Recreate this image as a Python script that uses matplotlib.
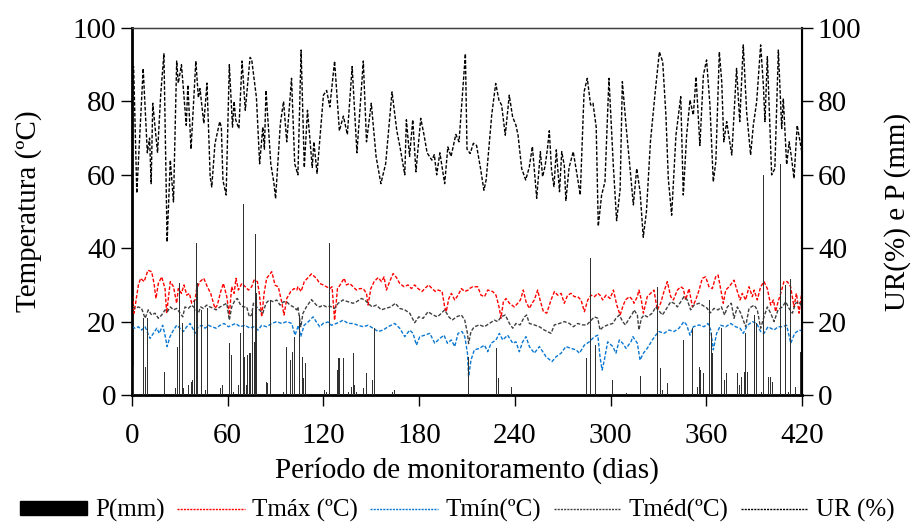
import numpy as np
import matplotlib.pyplot as plt
from matplotlib.patches import Patch
from matplotlib.lines import Line2D

plt.rcParams['font.family'] = ['Liberation Serif', 'DejaVu Serif']

# umidade relativa (%)
ur_dia = [0, 1, 3, 7, 9.6, 11, 12, 13, 16, 18, 20, 22, 24, 26, 28, 29, 31, 34, 35, 37, 40, 41.6, 42.6, 45, 47,
          49, 50, 52, 55, 56, 57, 59, 61, 63, 64, 65, 67, 69, 71, 74, 75, 78, 80, 82, 83, 84, 87, 89, 90, 93,
          95, 97, 100, 102, 104, 106, 108, 110, 113, 114, 116, 120, 122, 124, 127, 130, 132.5, 135, 138, 141,
          145, 147, 150, 153, 156, 159, 163, 166, 168, 171, 172, 174, 176, 178, 181, 183, 185, 188, 189.5, 191,
          193, 196, 198, 200, 203, 205, 209, 210, 212, 214, 216, 218.5, 220.6, 222, 225.5, 228, 230, 231.7,
          234, 236.5, 238.6, 240.7, 242, 244.3, 246.8, 249, 251, 253.7, 256, 257.4, 259, 260.4, 261.6, 263,
          264.5, 266, 268, 269.4, 271, 272, 274, 276.6, 278.7, 281, 283.4, 285.4, 287.5, 289, 291, 292.3,
          294.4, 296.5, 299, 301.7, 303.8, 306, 307.4, 310, 312, 314.3, 316.4, 318.5, 320.5, 322.5, 325, 328,
          330.6, 332.7, 334.7, 336.2, 338.3, 341, 344, 345.6, 347.7, 349.8, 351.9, 353.6, 356, 358.2, 360.2,
          362.3, 364.4, 366, 368.2, 369.7, 371, 372.8, 376, 379, 381, 383.2, 385.3, 387.8, 389.5, 391.6,
          394.1, 395.8, 396.8, 398.3, 401, 403, 405.2, 407.3, 408.3, 410.4, 412, 413.5, 415, 417, 419.2, 420]
ur_val = [89, 89.5, 55, 89, 66, 70, 57.6, 79.5, 66, 82, 93, 41.7, 64, 52.6, 91, 85, 90, 73.5, 84.5, 67, 91, 81,
          83.5, 74, 85, 59.5, 56.7, 68.5, 74.5, 73, 58.5, 54.5, 90, 73, 80, 75, 72.6, 91, 77.6, 92, 91.5, 81,
          63, 73, 67, 83, 63, 57.6, 53.5, 74, 80, 69, 86.3, 63, 60, 94, 62, 77.6, 62, 69, 60.4, 81.7, 83, 78.5,
          91, 72, 76, 71, 89.5, 66, 91, 69, 79.5, 65, 57.6, 63, 82.6, 72, 67.6, 60, 75, 65, 75, 60.8, 75.4, 71,
          66, 64, 65.5, 60, 66, 57.6, 67.6, 65, 71, 69, 93, 67, 65.8, 68.6, 68, 61.7, 55.8, 58.6, 76.3, 84.9,
          80.4, 79, 70.8, 81.7, 75.8, 73.5, 70.8, 61.7, 58.6, 62, 67.7, 53.6, 66.3, 59.5, 62.5, 67, 72, 61.3,
          56.8, 66.8, 55.4, 66.3, 62.5, 53, 62, 66.3, 60.8, 54.5, 82.6, 86.3, 79, 79.5, 73, 46, 54.5, 58.1,
          86.3, 62.8, 47.5, 56, 85.4, 72, 62.8, 51.8, 61.7, 55.4, 43, 50, 69, 82.6, 93.5, 90.8, 76.3, 59, 49,
          70.8, 81.3, 54.5, 70.8, 80.4, 76.3, 86.7, 68, 87.2, 91.3, 79, 58.1, 63.6, 93.5, 85.4, 69, 74.5, 65.4,
          89, 74.5, 95.4, 77.2, 65.4, 73.5, 79.9, 95.4, 84.5, 74.5, 92.2, 60, 61.7, 94, 72.6, 80.8, 62.8, 69,
          64.5, 59, 73.5, 68, 66]

# temperatura maxima
tmax_dia = [0, 1.3, 4, 5.4, 7.6, 10, 12.3, 13.8, 15, 16.5, 18.6, 20.7, 21.7, 24, 26, 28, 29, 31, 32.6, 34.3, 36,
            37.4, 39.5, 40.5, 42.6, 45, 47.2, 49.3, 52, 53.5, 55.6, 57.3, 59.4, 61, 62.5, 64, 65.2, 66.7, 68.8,
            71, 73, 75, 76.5, 78.6, 79.8, 81.3, 82.8, 84.4, 87.6, 89.7, 91.7, 93.8, 95.3, 97, 99.5, 101.6, 103.3,
            104, 106, 108, 112.5, 115.6, 117.7, 119.8, 121.9, 124, 125.4, 127, 128.8, 130.3, 133, 134.4, 136.5,
            138.6, 140.7, 142.8, 144.9, 147, 148, 149.7, 151.8, 154.3, 156.4, 158, 159.5, 161.6, 163.7, 165.8,
            167.8, 170.6, 173, 175.2, 177.2, 179.3, 181.8, 183.5, 186, 188.1, 190.2, 191.9, 194.4, 196, 197,
            198.6, 200.2, 202.3, 204.4, 206.5, 208.6, 210.7, 211.5, 213.6, 216.7, 218.8, 221, 223, 226.1, 228.2,
            230.3, 231.3, 232.8, 234.5, 236.6, 239.7, 241.8, 243.5, 245.3, 247, 249.1, 250.8, 252.2, 254.3,
            255.8, 257.9, 260, 262.7, 264.8, 266.9, 269, 271, 273.1, 275.2, 277.3, 279.4, 281.5, 283.6, 285.7,
            287.8, 289.9, 292, 293.4, 295.1, 297.2, 299.7, 301.8, 303.9, 306, 307.6, 309.3, 311.8, 313.9, 314.7,
            316.8, 317.8, 319.3, 320.6, 323, 325.1, 327.2, 329.3, 331.4, 333.5, 335.6, 337.7, 339.4, 341.9, 344,
            345.6, 347.1, 349.2, 351.3, 353.4, 355.5, 357.5, 359.6, 361.7, 363.8, 365.9, 367.4, 369, 370.7,
            372.2, 374.3, 377.4, 379.5, 381.2, 382.6, 384.7, 386.8, 388.9, 390, 392, 394.1, 396.2, 398.3, 400.4,
            402.1, 403.5, 405, 406.7, 408.7, 410.8, 412.9, 415, 416.5, 418.2, 420]
tmax_val = [28.6, 22.3, 30, 31.8, 30.9, 34, 33.6, 30.4, 26.3, 30.4, 32.2, 29, 22.3, 30.9, 29.5, 25, 29, 27.7, 30,
            27.2, 27.7, 25, 25.9, 29, 30.9, 31.8, 29.5, 27.7, 23.6, 24.5, 28.2, 30.4, 26.8, 21.8, 29.5, 27.7,
            31.8, 28.6, 30.4, 29.5, 28.6, 29.5, 31.3, 30.9, 27.7, 21.3, 27.7, 31.8, 33.6, 29.9, 29.5, 25.4, 21.8,
            26.3, 28.2, 29, 28.6, 29.5, 28.2, 30.9, 33, 31.8, 30.4, 30, 29.5, 29, 29.5, 20.4, 29, 29.9, 31.8, 30,
            30.4, 29.5, 28.6, 29, 29, 27.7, 24.5, 29, 30.9, 32, 30.9, 32.2, 28.6, 31, 33.1, 32, 30.4, 29.5, 30,
            29, 30, 29, 28.2, 29, 30, 29, 28.2, 28.6, 28.2, 24, 22.7, 26.3, 27.7, 25.9, 27.2, 29, 28.2, 28.6, 29,
            29.5, 29.5, 27.2, 26.8, 28.6, 28.2, 27.2, 23.6, 20.9, 25.4, 26.3, 25, 24, 25, 25.9, 28.6, 25.4, 23.6,
            25, 25.9, 28.6, 25.9, 22.7, 22.3, 25.9, 28.2, 27.2, 27.7, 25, 27.2, 27.7, 26.8, 26.8, 25.9, 22.7,
            25.9, 27.2, 26.8, 27.7, 27.2, 25.9, 27.2, 26.3, 28.6, 24.5, 21.8, 24, 25.9, 26.8, 25.9, 25, 26.8,
            28.6, 25.9, 22.3, 26.8, 27.7, 28.6, 23.2, 25, 28.2, 30.9, 26.8, 25.9, 28.6, 29.5, 29, 25.9, 29, 24,
            25.9, 28.6, 31.8, 32.2, 29.5, 29, 32.2, 32.7, 29, 25, 28.6, 29.5, 31.3, 28.2, 25.9, 27.7, 25.9, 29.5,
            26.8, 28.6, 25.9, 29.5, 30.9, 29, 24.5, 25.9, 22.7, 25.4, 27.7, 30.9, 30.9, 29.5, 24, 27.7, 22.3,
            28.6]

# temperatura media
tmed_dia = [0, 1.9, 4, 6, 8.2, 10.2, 12.3, 14.4, 16.5, 18.6, 20.7, 22.2, 24, 26, 28, 30.1, 31.8, 33.2, 35.3, 37.4,
            39.5, 41.6, 43, 44.7, 46.8, 48.9, 51, 52.7, 55.2, 57.3, 59.4, 61, 62.5, 64.6, 66, 68.1, 69.8, 71.9,
            73.6, 75, 76.1, 78.2, 79.8, 82, 84, 86, 88.6, 90.7, 92.8, 95, 97, 99, 101.2, 103.2, 104, 105.8,
            107.2, 109.3, 112.5, 115.6, 117.7, 119.8, 121.9, 124, 127, 129.2, 132.3, 135.5, 138.6, 140.7, 143.8,
            145.9, 148, 150.5, 153.2, 156.3, 158.9, 162.2, 165.1, 167.8, 171, 174.1, 177.2, 179.8, 182.5, 185.6,
            188.7, 191.5, 194, 196, 198.6, 200.7, 203.4, 206.5, 208.6, 210.3, 211, 212.5, 214.6, 217.8, 220.9,
            224, 227.2, 229.3, 231.3, 234, 236.6, 238.7, 240.7, 243.3, 246, 247.4, 249.1, 252.2, 255.4, 258.5,
            262.7, 264.8, 268, 271, 274.2, 276.7, 279.4, 282.5, 285.1, 287.1, 289.9, 292, 293.4, 295.5, 298.2,
            301.4, 303.4, 305.5, 307.6, 309.3, 311.8, 313.9, 314.7, 316.8, 317.8, 319.3, 321, 323, 326.2, 328.3,
            329.8, 332.5, 334.6, 337.7, 339.8, 341.9, 344, 346, 348.1, 350.2, 352.3, 355.5, 357.5, 360.7, 362.3,
            364.9, 367.4, 369.5, 371.5, 373.2, 375.7, 377.4, 379.5, 381.6, 384.7, 386.8, 390, 392, 394.1, 396.2,
            398.3, 400.4, 402.5, 405, 407.7, 409.8, 411.9, 414, 416, 418.2, 420]
tmed_val = [24, 23.6, 24, 23.6, 20.9, 23.2, 21.8, 22.3, 20.9, 21.8, 23.2, 22.7, 24, 23.2, 23.6, 22.3, 21.3, 24,
            23.6, 24.5, 23.6, 22.3, 24, 23.6, 24.5, 24, 23.6, 23.2, 24, 24.5, 25, 20.4, 24, 25.9, 26.3, 24.5, 24,
            24, 21.3, 21.8, 25, 24, 23.2, 22.3, 25, 25.9, 25.4, 25.9, 24.5, 25.4, 25.4, 24.5, 24, 23.2, 24, 18.6,
            22.3, 24, 26, 24.5, 24, 24.5, 24, 24.2, 23.6, 25, 25.9, 25.4, 25, 25.4, 26.3, 25.9, 25, 24, 24.5,
            23.2, 23.6, 24, 25, 23.6, 23.2, 22.3, 19.7, 21.3, 20.9, 22.7, 21.8, 21.3, 22.3, 23.2, 21.3, 20.4,
            21.3, 21.8, 20.4, 16.8, 14, 17.3, 18.6, 19.1, 18.6, 19.5, 20.4, 20, 21.3, 21.8, 19.5, 18.2, 19.5,
            19.1, 21.3, 21.8, 19.5, 19.1, 18.6, 17.7, 16.8, 19.1, 19.5, 20, 19.5, 18.6, 19.5, 19.1, 19.1, 20,
            21.3, 20.9, 17.7, 18.6, 19.1, 19.5, 20.9, 21.8, 20, 19.1, 20.9, 22.3, 23.2, 21.8, 17.7, 20.9, 21.8,
            21.3, 22.3, 24, 23.2, 21.8, 23.2, 25.4, 25, 24, 25.4, 26.8, 25.9, 23.2, 24.5, 25, 24.5, 23.6, 22.3,
            23.6, 23.2, 24, 21.8, 24, 25, 20.9, 24, 22.3, 18.6, 23.6, 24.5, 23.2, 18.2, 21.3, 24, 22.3, 20,
            23.2, 24, 25.4, 23.6, 22.3, 25, 25.4, 24]

# temperatura minima
tmin_dia = [0, 1.9, 4, 6, 8.2, 11.3, 13.4, 15.5, 17.1, 19.2, 20.7, 22, 23.8, 26, 28, 30.1, 32.2, 34.3, 36.4, 38,
            39.5, 41.6, 43.7, 45.8, 47.9, 50, 52.7, 55.2, 57.7, 60.4, 62.5, 65, 67.7, 70.8, 74, 76.1, 79, 81.3,
            84.4, 87.6, 90.7, 93.8, 97, 100.1, 102.2, 104.3, 105.8, 107.9, 110.4, 113.5, 115.6, 117.7, 119.8,
            122.9, 125, 128.1, 130.2, 132.3, 135.5, 138.6, 141.7, 144.9, 148, 151.1, 154.3, 157.4, 160.5, 164.7,
            167.8, 171, 174.1, 176.2, 178.3, 180.4, 183.5, 186.7, 189.8, 192.9, 195.6, 197.7, 200.2, 202.3,
            204.4, 206.9, 208.6, 210.3, 211, 212.5, 214.6, 217.8, 220.9, 223, 225.1, 228.2, 230.3, 232.4, 235.5,
            238.7, 240.7, 242.8, 244.9, 247, 249.1, 252.2, 255.4, 259.6, 263.3, 265.8, 269, 272, 275.2, 278.4,
            280.5, 283.6, 286.7, 289.9, 292, 293.4, 294.7, 296.1, 298.2, 301.4, 303.4, 305.5, 307.6, 309.7,
            312.8, 314, 316.8, 318.5, 320.6, 323, 326.2, 328.3, 330.4, 333.5, 336.6, 339.8, 342.9, 346, 347.7,
            349.8, 351.9, 355.5, 358.6, 361.1, 362.8, 364.4, 366.5, 369, 372.2, 375.3, 378.4, 381.2, 383.2,
            385.8, 388.9, 391.6, 394.1, 396.2, 398.7, 402.5, 405, 407.7, 410.4, 413, 415.4, 418.2, 420]
tmin_val = [18.6, 18.2, 18.6, 17.7, 18.6, 15.4, 16.8, 18.2, 16.8, 19, 16.3, 13.2, 15.9, 17.7, 19, 18.2, 17.3,
            18.6, 19.5, 18.2, 16.8, 18.6, 19, 18.2, 19, 18.6, 18.2, 19, 19.5, 18.6, 19, 19.5, 18.6, 19, 18.2,
            18.6, 17.7, 19, 18.6, 19.5, 20, 19.5, 20, 19.5, 16.3, 19, 15.9, 19, 19.9, 21.3, 19.9, 18.6, 19.5,
            19.9, 19, 19.5, 19.9, 20.4, 19.5, 19.5, 19, 18.6, 19, 18.2, 17.3, 17.7, 18.6, 19.5, 18.2, 15.9, 17.7,
            16.8, 13.6, 15.9, 16.3, 16.8, 14.1, 15.4, 16.3, 14.1, 15, 13.2, 16.8, 17.3, 15.9, 11.4, 5, 9.5, 12.3,
            12.7, 13.6, 11.8, 14.1, 15, 16.8, 15, 16.3, 14.1, 14.5, 11.8, 14.5, 15.9, 13.2, 11.4, 13.2, 10.4,
            9.1, 10.4, 11.4, 13.2, 12.7, 12.3, 11.4, 13.6, 14.5, 15.9, 16.3, 10.4, 6.8, 9.5, 14.5, 13.2, 11.4,
            15, 14.1, 12.7, 14.5, 15.9, 14.1, 9.5, 11.4, 12.7, 15, 16.3, 17.3, 16.8, 17.7, 17.3, 18.2, 20, 19.1,
            16.3, 18.6, 19.1, 18.6, 19.5, 17.7, 12.3, 16.8, 19, 18.6, 19.5, 18.6, 18.2, 16.8, 19, 20, 19.5, 17.3,
            16.8, 18.6, 17.7, 18.6, 18.6, 19, 14.1, 16.8, 17.7, 17.5]

# precipitacao (mm)
p_dia = [1, 5, 7, 8.6, 9.6, 14.4, 20.3, 21.3, 27.4, 28.4, 29.5, 30, 30.7, 31.6, 32.2, 35.3, 37, 38, 38.9, 40.3,
         41.2, 42, 43.3, 45.8, 47.4, 55.6, 56.8, 61.4, 62.5, 63.5, 66.9, 68, 69.6, 70.6, 71.7, 72.5, 73.6, 74.4,
         75.7, 76.7, 77.3, 78.2, 84.4, 85, 86.7, 94.9, 97, 97.8, 99.5, 100.7, 101.8, 104.9, 106.6, 107.4, 108.7,
         120.8, 121.9, 124, 128.8, 129.6, 130.2, 132.5, 132.9, 135.9, 137.5, 138.8, 139.6, 140.7, 144.9, 147,
         150.5, 152.2, 163, 164.7, 211, 228.2, 229.9, 238.2, 285, 287.4, 290.5, 301.4, 309.7, 318.5, 329.3,
         331.4, 332.5, 333.5, 336, 345.6, 351.5, 354.4, 355.7, 356.5, 358.4, 362.3, 363.2, 364, 369.5, 370.5,
         371.5, 372.8, 379.5, 380.7, 382, 383.7, 384.5, 385.8, 386.8, 390.4, 391.2, 394.5, 395.8, 399.3, 400.4,
         401.4, 406.7, 409.8, 411.3, 413, 416, 418.8, 419.8]
p_val = [8, 2.3, 21, 7.7, 21, 3.6, 6.4, 8.2, 1.8, 13.2, 30.4, 13.2, 13.2, 19.5, 1.8, 2.7, 3.6, 4, 25.9, 41.3,
         30.4, 25.9, 23.2, 1.4, 23.6, 1.8, 2.7, 14.1, 10.9, 0.9, 2.7, 16.8, 52, 10.4, 2.7, 10.9, 11.4, 11.4, 23.2,
         14.5, 44, 27.7, 3.6, 3.2, 25.9, 0.9, 13.2, 3.6, 9.5, 11.8, 15.9, 21.8, 10.4, 4.5, 8.6, 1.4, 0.9, 41.5,
         6.8, 10, 10, 10, 10, 0.9, 2.3, 11.4, 2.7, 0.9, 1.8, 5.9, 4.1, 18.2, 0.9, 1.4, 10.4, 12.7, 4.5, 2.3, 10,
         37.2, 13.6, 4.1, 0.6, 5.2, 29.5, 7.3, 1.4, 6.4, 3.2, 15, 18.2, 2.3, 7.7, 6.8, 5.9, 25.9, 16.8, 11.4,
         18.2, 45.1, 4.1, 5.9, 5.9, 2.7, 5, 6.4, 16.8, 6.4, 3.6, 21.8, 19.5, 0.9, 60, 5, 5, 3.6, 63, 30, 0.9,
         31.5, 2.3, 11.8, 10.9]

x_ticks = np.arange(0, 421, 60)
y_ticks = np.arange(0, 101, 20)

fig = plt.figure(figsize=(9.2, 5.29), dpi=100)
ax = fig.add_axes([0.1435, 0.2533, 0.7282, 0.6937])
ax2 = ax.twinx()

dash = (2.6, 1.3)
ax2.bar(p_dia, p_val, width=0.6, color='#303030', zorder=1)
ax.plot(tmax_dia, tmax_val, color='#ff0000', lw=1.0, dashes=dash, zorder=3)
ax.plot(tmed_dia, tmed_val, color='#404040', lw=1.0, dashes=dash, zorder=3)
ax.plot(tmin_dia, tmin_val, color='#0a78d2', lw=1.0, dashes=dash, zorder=3)
ax2.plot(ur_dia, ur_val, color='black', lw=1.0, dashes=dash, zorder=2)

for a in (ax, ax2):
    a.set_xlim(0, 420)
    a.set_ylim(0, 100)
    a.set_yticks(y_ticks)
    a.tick_params(labelsize=21, direction='out', length=8, width=1)
ax.set_xticks(x_ticks)
ax.tick_params(axis='x', pad=12)

ax.spines['left'].set_linewidth(2)
ax.spines['bottom'].set_linewidth(2)
ax2.spines['right'].set_linewidth(1.5)
ax2.spines['top'].set_linewidth(1)
ax2.spines['top'].set_color('#404040')

ax.set_ylabel('Temperatura (ºC)', fontsize=21, labelpad=22)
ax2.set_ylabel('UR(%) e P (mm)', fontsize=21, labelpad=16)
ax.set_xlabel('Período de monitoramento (dias)', fontsize=21, labelpad=6)

handles = [Patch(color='black'),
           Line2D([], [], color='#ff0000', lw=1, dashes=(1.5, 0.8)),
           Line2D([], [], color='#0a78d2', lw=1, dashes=(1.5, 0.8)),
           Line2D([], [], color='#404040', lw=1, dashes=(1.5, 0.8)),
           Line2D([], [], color='black', lw=1, dashes=(1.5, 0.8))]
labels = ['P(mm)', 'Tmáx (ºC)', 'Tmín(ºC)', 'Tméd(ºC)', 'UR (%)']
fig.legend(handles, labels, loc='lower center', bbox_to_anchor=(0.497, -0.03), ncol=5, frameon=False,
           fontsize=18, handlelength=2.7, handleheight=0.5, handletextpad=0.3, columnspacing=0.5)

fig.savefig('out.png', dpi=100)
